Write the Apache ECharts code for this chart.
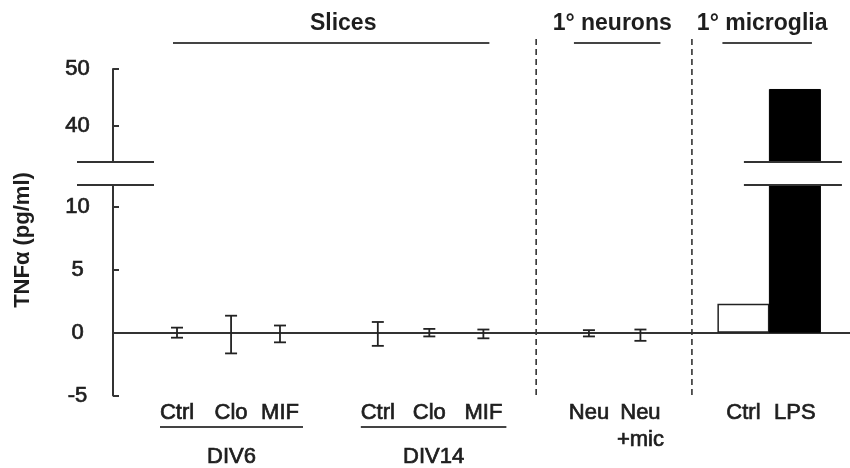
<!DOCTYPE html>
<html><head><meta charset="utf-8">
<script src="https://cdn.jsdelivr.net/npm/echarts@6/dist/echarts.min.js"></script>
<style>html,body{margin:0;padding:0;background:#fff}#c{width:850px;height:468px}</style>
</head><body><div id="c"></div>
<script>
// ---- data ----
const categories = ['Ctrl', 'Clo', 'MIF', 'Ctrl', 'Clo', 'MIF', 'Neu', 'Neu\n+mic', 'Ctrl', 'LPS'];
const slots = [0, 1.05, 2, 3.9, 4.9, 5.95, 8, 9, 11, 12];
const errMeans = [0, -0.15, -0.1, -0.1, 0, -0.1, -0.05, -0.2];
const errSD = [0.4, 1.5, 0.67, 0.95, 0.3, 0.35, 0.25, 0.45];
const barValues = [2.3, 46.5];           // 1° microglia Ctrl, LPS
const lowerTicks = [-5, 0, 5, 10];
const upperTicks = [40, 50];
const lowerRange = [-5, 11.75];
const upperRange = [33.7, 50];
const subGroups = [{label: 'DIV6', from: 0, to: 2}, {label: 'DIV14', from: 3, to: 5}];
const headers = [{label: 'Slices', from: 0, to: 5}, {label: '1° neurons', from: 6, to: 7}, {label: '1° microglia', from: 8, to: 9}];
const separators = [[5, 6], [7, 8]];
const yTitle = 'TNFα (pg/ml)';

// ---- layout / style ----
const FONT = "'Liberation Sans', Arial, sans-serif";
const TXT = '#1e1e1e';
const LINE = '#333';
const xMin = -1.243, xMax = 13.07;
const chart = echarts.init(document.getElementById('c'), null, {renderer: 'canvas'});

const barIdx0 = 8;
const barData = barValues.map((v, i) => ({
  value: [slots[barIdx0 + i], v],
  itemStyle: i === 0 ? {color: '#fff', borderColor: '#222', borderWidth: 1.5} : {color: '#000', borderColor: '#000', borderWidth: 1}
}));
const upperBarData = barData.filter(d => d.value[1] > upperRange[0]);
const errData = errMeans.map((m, i) => [slots[i], m - errSD[i], m + errSD[i]]);

function labelFor(v) {
  const i = slots.findIndex(s => Math.abs(s - v) < 1e-6);
  return i >= 0 ? categories[i] : '';
}
const heavy = {textBorderColor: TXT, textBorderWidth: 0.7};
const tickLabel = Object.assign({fontSize: 22, color: TXT, fontFamily: FONT, align: 'center', margin: 35.5}, heavy);

chart.setOption({
  animation: false,
  backgroundColor: '#fff',
  grid: [
    {left: 113, right: 0, top: 69, height: 93},
    {left: 113, right: 0, top: 185, height: 210.5}
  ],
  xAxis: [
    {gridIndex: 0, type: 'value', min: xMin, max: xMax, show: false},
    {gridIndex: 1, type: 'value', min: xMin, max: xMax,
      axisLine: {show: false}, axisTick: {show: false}, splitLine: {show: false},
      axisLabel: Object.assign({customValues: slots, formatter: labelFor, fontSize: 22, color: TXT, fontFamily: FONT,
        margin: 4, lineHeight: 27, verticalAlign: 'top'}, heavy)}
  ],
  yAxis: [
    {gridIndex: 0, type: 'value', min: upperRange[0], max: upperRange[1], splitLine: {show: false},
      axisLine: {show: true, onZero: false, lineStyle: {color: LINE, width: 2}},
      axisTick: {show: true, inside: true, length: 6, customValues: upperTicks, lineStyle: {color: LINE, width: 2}},
      axisLabel: Object.assign({customValues: upperTicks}, tickLabel)},
    {gridIndex: 1, type: 'value', min: lowerRange[0], max: lowerRange[1], splitLine: {show: false},
      axisLine: {show: true, onZero: false, lineStyle: {color: LINE, width: 2}},
      axisTick: {show: true, inside: true, length: 6, customValues: lowerTicks, lineStyle: {color: LINE, width: 2}},
      axisLabel: Object.assign({customValues: lowerTicks}, tickLabel)}
  ],
  series: [
    {type: 'bar', xAxisIndex: 0, yAxisIndex: 0, data: upperBarData, barWidth: 52, clip: true},
    {type: 'bar', xAxisIndex: 1, yAxisIndex: 1, data: barData, barWidth: 52, clip: true, z: 3,
      markLine: {silent: true, symbol: ['none', 'none'], label: {show: false},
        lineStyle: {color: LINE, width: 2, type: 'solid'}, data: [{yAxis: 0}], z: 1}},
    {type: 'custom', xAxisIndex: 1, yAxisIndex: 1, data: errData, z: 4,
      renderItem: function (params, api) {
        const x = api.value(0);
        const lo = api.coord([x, api.value(1)]);
        const hi = api.coord([x, api.value(2)]);
        const hw = 6;
        const st = {stroke: '#222', lineWidth: 1.8};
        return {type: 'group', children: [
          {type: 'line', shape: {x1: lo[0], y1: lo[1], x2: hi[0], y2: hi[1]}, style: st},
          {type: 'line', shape: {x1: lo[0] - hw, y1: lo[1], x2: lo[0] + hw, y2: lo[1]}, style: st},
          {type: 'line', shape: {x1: hi[0] - hw, y1: hi[1], x2: hi[0] + hw, y2: hi[1]}, style: st}
        ]};
      }}
  ]
});

// ---- annotations positioned through the chart's scales ----
const px = v => chart.convertToPixel({xAxisIndex: 1}, v);
const breakTop = chart.convertToPixel({yAxisIndex: 0}, upperRange[0]);
const breakBot = chart.convertToPixel({yAxisIndex: 1}, lowerRange[1]);
const axisX = px(xMin);
const g = [];
const hline = (x1, x2, y, w, c) => ({type: 'line', z: 50, shape: {x1, y1: y, x2, y2: y}, style: {stroke: c || LINE, lineWidth: w || 2}});
const text = (t, x, y, size, weight, extra, border) => Object.assign({type: 'text', z: 50, x, y,
  style: {text: t, fill: TXT, font: (weight || 'normal') + ' ' + size + 'px ' + FONT, align: 'center', verticalAlign: 'middle',
    stroke: border ? TXT : null, lineWidth: border || 0}}, extra || {});

// axis breaks
[breakTop, breakBot].forEach(y => {
  g.push(hline(axisX - 36, axisX + 41, y));
  const lps = px(slots[9]);
  g.push(hline(lps - 51, lps + 47, y));
});
// separators
separators.forEach(([a, b]) => {
  const x = (px(slots[a]) + px(slots[b])) / 2;
  g.push({type: 'line', z: 50, shape: {x1: x, y1: 39, x2: x, y2: 398}, style: {stroke: LINE, lineWidth: 1.6, lineDash: [6, 4]}});
});
// headers
const hPad = [[-4, 6], [-15, 20], [-21, 17]];
headers.forEach((h, i) => {
  const x1 = px(slots[h.from]) + hPad[i][0], x2 = px(slots[h.to]) + hPad[i][1];
  g.push(hline(x1, x2, 43, 2, '#444'));
  g.push(text(h.label, (x1 + x2) / 2 + (i === 0 ? 12 : -5), 24, 23, 'bold'));
});
// subgroup underlines
subGroups.forEach(s => {
  const x1 = px(slots[s.from]) - 17, x2 = px(slots[s.to]) + 23;
  g.push(hline(x1, x2, 427, 2, '#444'));
  g.push(text(s.label, (x1 + x2) / 2, 457, 22, 'normal', null, 0.7));
});
// y title
g.push(text(yTitle, 23, 240, 22, 'bold', {rotation: Math.PI / 2}));

chart.setOption({graphic: g});
</script></body></html>
